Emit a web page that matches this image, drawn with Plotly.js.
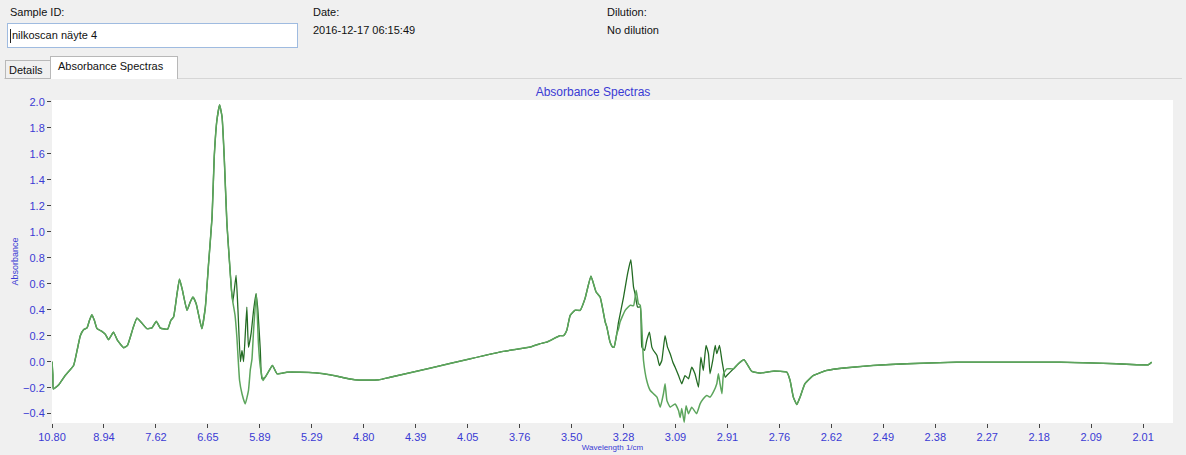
<!DOCTYPE html>
<html>
<head>
<meta charset="utf-8">
<script src="https://cdn.plot.ly/plotly-3.0.1.min.js"></script>
<style>
  html, body { margin:0; padding:0; background:#f0f0f0; width:1186px; height:455px; overflow:hidden;
    font-family:"Liberation Sans", Arial, sans-serif; font-size:11px; color:#111; }
  #chart { position:absolute; left:0; top:0; width:1186px; height:455px; z-index:1; }
  .lbl { position:absolute; z-index:2; white-space:nowrap; line-height:13px; }
  #sampleBox { position:absolute; z-index:2; left:7px; top:23px; width:289px; height:23px; background:#fff;
    border:1px solid #9fbbe0; }
  #sampleBox span { position:absolute; left:4px; top:5px; line-height:13px; }
  #caret { position:absolute; left:2px; top:5px; width:1px; height:14px; background:#222; }
  .tab { position:absolute; z-index:2; border:1px solid #b8b8b8; box-sizing:border-box; }
  #panelLine { position:absolute; z-index:2; left:4px; top:78px; width:1178px; height:1px; background:#d6d6d6; }
</style>
</head>
<body>
<div id="chart"></div>
<div class="lbl" style="left:10px;top:6px;">Sample ID:</div>
<div id="sampleBox"><div id="caret"></div><span>nilkoscan näyte 4</span></div>
<div class="lbl" style="left:313px;top:6px;">Date:</div>
<div class="lbl" style="left:313px;top:24px;">2016-12-17 06:15:49</div>
<div class="lbl" style="left:607px;top:6px;">Dilution:</div>
<div class="lbl" style="left:607px;top:24px;">No dilution</div>
<div id="panelLine"></div>
<div class="tab" style="left:5px;top:60px;width:46px;height:19px;background:#f0f0f0;"></div>
<div class="lbl" style="left:9px;top:64px;">Details</div>
<div class="tab" style="left:50px;top:56px;width:128px;height:23px;background:#fff;border-bottom:none;"></div>
<div class="lbl" style="left:58px;top:60px;">Absorbance Spectras</div>
<script>
// x tick labels (wavelength, µm) on an axis linear in wavenumber (cm^-1)
const tickLabels = ['10.80','8.94','7.62','6.65','5.89','5.29','4.80','4.39','4.05','3.76','3.50',
  '3.28','3.09','2.91','2.76','2.62','2.49','2.38','2.27','2.18','2.09','2.01'];

// shared start segment (wavenumber cm^-1, absorbance)
const startWn = [926,929,931,950,975,1006,1019,1031,1043,1056,1065,1074,1083,1093,1111,1124,1136,1154,1169,1192,
  1206,1226,1241,1256,1278,1297,1313,1328,1355,1367,1377,1390,1399,1410,1427,1439,1449,1461,1482,1495,
  1507,1520,1528,1538,1548,1557,1565,1575,1585,1592,1597];
const startAbs = [0.00,-0.10,-0.21,-0.18,-0.106,-0.03,0.086,0.20,0.246,0.26,0.318,0.361,0.318,0.254,0.233,0.21,0.169,0.227,0.163,0.107,
  0.125,0.254,0.335,0.305,0.254,0.26,0.31,0.258,0.25,0.318,0.343,0.523,0.635,0.549,0.395,0.459,0.497,0.446,0.254,0.42,
  0.755,1.114,1.576,1.859,1.975,1.884,1.576,1.063,0.755,0.55,0.46];

// scan A / scan B split near 5.9 µm
const aWn1 = [1609,1616,1625,1631,1637,1649,1655,1665,1674,1683,1690,1699,1705];
const aAbs1 = [0.664,0.40,0.00,0.086,0.00,0.42,0.11,0.22,0.395,0.523,0.395,0.086,-0.132];
const bWn1 = [1605,1612,1622,1631,1643,1655,1662,1668,1674,1684,1692,1699,1709];
const bAbs1 = [0.36,0.19,-0.145,-0.247,-0.325,-0.222,-0.06,0.02,0.24,0.523,0.138,-0.04,-0.145];

// shared middle segment
const midWn = [1717,1732,1744,1761,1798,1847,1903,1958,2051,2138,2181,2329,2478,2601,2700,2737,2762,2811,2824,2836,
  2849,2867,2886,2904,2926,2945,2960,2979,2985,2997,3007,3012,3022];
const midAbs = [-0.12,-0.068,-0.029,-0.093,-0.081,-0.081,-0.086,-0.101,-0.14,-0.14,-0.12,-0.05,0.022,0.079,0.112,0.138,0.15,0.20,0.20,0.24,
  0.356,0.395,0.395,0.485,0.657,0.536,0.497,0.305,0.266,0.15,0.112,0.112,0.215];

// scan A / scan B split near 3 µm
const aWn2 = [3028,3047,3062,3074,3084,3090,3099,3109,3115,3125,3133,3143,3152,3158,3171,3180,3189,3201,3210,3220,
  3230,3238,3251,3263,3275,3288,3300,3312,3325,3334,3343,3353,3362,3368,3378,3387,3393,3403,3412,3424,3430];
const aAbs2 = [0.30,0.497,0.677,0.785,0.574,0.52,0.42,0.42,0.112,0.086,0.163,0.227,0.112,0.086,0.048,-0.03,0.009,0.20,0.112,0.061,
  -0.004,-0.042,-0.107,-0.17,-0.107,-0.132,-0.042,-0.093,-0.196,0.035,-0.068,0.125,0.061,-0.093,0.009,0.125,0.061,0.125,0.009,-0.12,-0.107];
const bWn2 = [3028,3034,3053,3072,3084,3094,3102,3109,3121,3133,3146,3158,3171,3183,3195,3201,3208,3220,3238,3251,
  3257,3263,3272,3279,3288,3300,3318,3331,3343,3356,3368,3380,3393,3399,3405,3412,3418,3430];
const bAbs2 = [0.25,0.305,0.395,0.434,0.43,0.549,0.446,0.434,0.009,-0.145,-0.222,-0.247,-0.273,-0.35,-0.247,-0.17,-0.30,-0.35,-0.325,-0.376,
  -0.43,-0.36,-0.466,-0.34,-0.40,-0.35,-0.40,-0.325,-0.286,-0.26,-0.273,-0.235,-0.17,-0.093,-0.17,-0.247,-0.093,-0.055];

// shared end segment
const endWn = [3455,3473,3494,3523,3554,3603,3653,3665,3677,3690,3702,3720,3751,3801,3875,3974,4098,4283,4469,4667,
  4778,4877,4951,4994,5007];
const endAbs = [-0.055,-0.016,0.015,-0.075,-0.088,-0.073,-0.081,-0.145,-0.273,-0.33,-0.273,-0.17,-0.107,-0.068,-0.047,-0.029,-0.016,-0.004,-0.004,-0.004,
  -0.01,-0.016,-0.024,-0.024,-0.004];

const scanAx = [].concat(startWn, aWn1, midWn, aWn2, endWn);
const scanAy = [].concat(startAbs, aAbs1, midAbs, aAbs2, endAbs);
const scanBx = [].concat(startWn, bWn1, midWn, bWn2, endWn);
const scanBy = [].concat(startAbs, bAbs1, midAbs, bAbs2, endAbs);

const x0 = 10000 / parseFloat(tickLabels[0]);
const x1 = 10000 / parseFloat(tickLabels[tickLabels.length - 1]);
const step = (x1 - x0) / (tickLabels.length - 1);
const tickVals = tickLabels.map((_, i) => x0 + i * step);

const blue = '#3a3ad4';
const font = {family: '"Liberation Sans", Arial, sans-serif', size: 11, color: blue};

const traces = [
  {x: scanAx, y: scanAy, type: 'scatter', mode: 'lines', line: {color: '#236b23', width: 1.3, shape: 'spline', smoothing: 0.4}, hoverinfo: 'skip'},
  {x: scanBx, y: scanBy, type: 'scatter', mode: 'lines', line: {color: '#5ca55c', width: 1.5, shape: 'spline', smoothing: 0.4}, hoverinfo: 'skip'}
];

const layout = {
  width: 1186, height: 455,
  margin: {l: 52, r: 13, t: 100, b: 32, pad: 0},
  paper_bgcolor: 'rgba(0,0,0,0)',
  plot_bgcolor: '#ffffff',
  showlegend: false,
  font: font,
  title: {text: 'Absorbance Spectras', font: {family: font.family, size: 12, color: blue},
    x: 0.5, xref: 'container', xanchor: 'center', y: 1 - 92/455, yref: 'container', yanchor: 'middle'},
  xaxis: {
    range: [x0, 5086], tickmode: 'array', tickvals: tickVals, ticktext: tickLabels,
    ticks: 'outside', ticklen: 4, tickwidth: 1, tickcolor: '#444',
    showgrid: false, zeroline: false, showline: false,
    tickfont: font,
    title: {text: 'Wavelength 1/cm', font: {family: font.family, size: 8, color: blue}, standoff: 2}
  },
  yaxis: {
    range: [-0.472, 2.013], tickmode: 'linear', tick0: -0.4, dtick: 0.2, tickformat: '.1f',
    ticks: 'outside', ticklen: 4, tickwidth: 1, tickcolor: '#444',
    showgrid: false, zeroline: false, showline: false,
    tickfont: font,
    title: {text: 'Absorbance', font: {family: font.family, size: 9, color: blue}, standoff: 2}
  }
};

Plotly.newPlot('chart', traces, layout, {displayModeBar: false, staticPlot: true});
</script>
</body>
</html>
